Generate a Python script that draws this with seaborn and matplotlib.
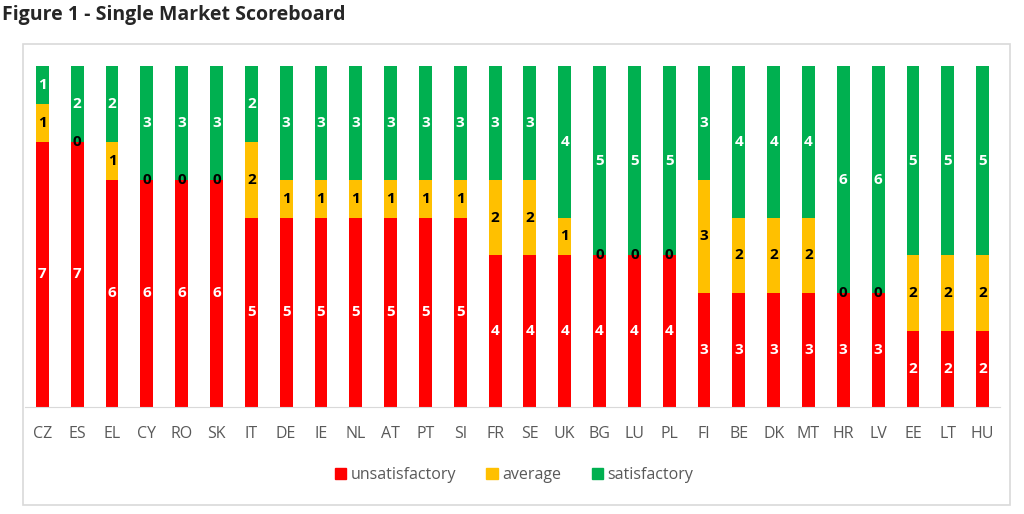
import matplotlib.pyplot as plt
import seaborn as sns
import numpy as np
import pandas as pd
from matplotlib.patches import Patch, Rectangle

countries = ["CZ", "ES", "EL", "CY", "RO", "SK", "IT", "DE", "IE", "NL", "AT", "PT", "SI",
             "FR", "SE", "UK", "BG", "LU", "PL", "FI", "BE", "DK", "MT", "HR", "LV", "EE", "LT", "HU"]
unsatisfactory = [7, 7, 6, 6, 6, 6, 5, 5, 5, 5, 5, 5, 5, 4, 4, 4, 4, 4, 4, 3, 3, 3, 3, 3, 3, 2, 2, 2]
average = [1, 0, 1, 0, 0, 0, 2, 1, 1, 1, 1, 1, 1, 2, 2, 1, 0, 0, 0, 3, 2, 2, 2, 0, 0, 2, 2, 2]
satisfactory = [1, 2, 2, 3, 3, 3, 2, 3, 3, 3, 3, 3, 3, 3, 3, 4, 5, 5, 5, 3, 4, 4, 4, 6, 6, 5, 5, 5]

COLORS = {"unsatisfactory": "#FF0000", "average": "#FFC000", "satisfactory": "#00B050"}

df = pd.DataFrame({"country": countries, "unsatisfactory": unsatisfactory,
                   "average": average, "satisfactory": satisfactory})

sns.set_style("white")
plt.rcParams["font.family"] = ["Open Sans", "DejaVu Sans"]

fig = plt.figure(figsize=(10.24, 5.14), dpi=100)
ax = fig.add_axes([25 / 1024, 1 - 407 / 514, 975 / 1024, 341 / 514])

# frame around the chart area
fig.patches.append(Rectangle((23 / 1024, 1 - 505 / 514), 987 / 1024, 461 / 514,
                             transform=fig.transFigure, fill=False,
                             edgecolor="#D9D9D9", linewidth=1.2))

bottom = np.zeros(len(df))
for series in ["unsatisfactory", "average", "satisfactory"]:
    sns.barplot(data=df, x="country", y=series, bottom=bottom, color=COLORS[series],
                width=0.37, saturation=1, ax=ax, linewidth=0)
    for i, v in enumerate(df[series]):
        if v == 0:
            ax.text(i, bottom[i], "0", ha="center", va="center", fontsize=11,
                    fontweight="bold", color="black")
        else:
            txt_color = "black" if series == "average" else "white"
            ax.text(i, bottom[i] + v / 2, str(v), ha="center", va="center", fontsize=11,
                    fontweight="bold", color=txt_color)
    bottom = bottom + df[series].values

ax.set_xlim(-0.5, len(df) - 0.5)
ax.set_ylim(0, 9)
ax.set_xlabel("")
ax.set_ylabel("")
ax.set_yticks([])
ax.tick_params(axis="x", labelsize=11.5, colors="#595959", length=0, pad=14)
for s in ["top", "right", "left"]:
    ax.spines[s].set_visible(False)
ax.spines["bottom"].set_color("#D9D9D9")

handles = [Patch(color=c, label=k) for k, c in COLORS.items()]
fig.legend(handles=handles, loc="center", bbox_to_anchor=(514 / 1024, 1 - 475 / 514),
           ncol=3, frameon=False, fontsize=11.5, handlelength=0.7, handleheight=0.7,
           handletextpad=0.3, columnspacing=1.9, labelcolor="#595959")

fig.text(2 / 1024, 1 - 15 / 514, "Figure 1 - Single Market Scoreboard", fontsize=14,
         fontweight="bold", ha="left", va="center")

plt.savefig("out.png", dpi=100)
